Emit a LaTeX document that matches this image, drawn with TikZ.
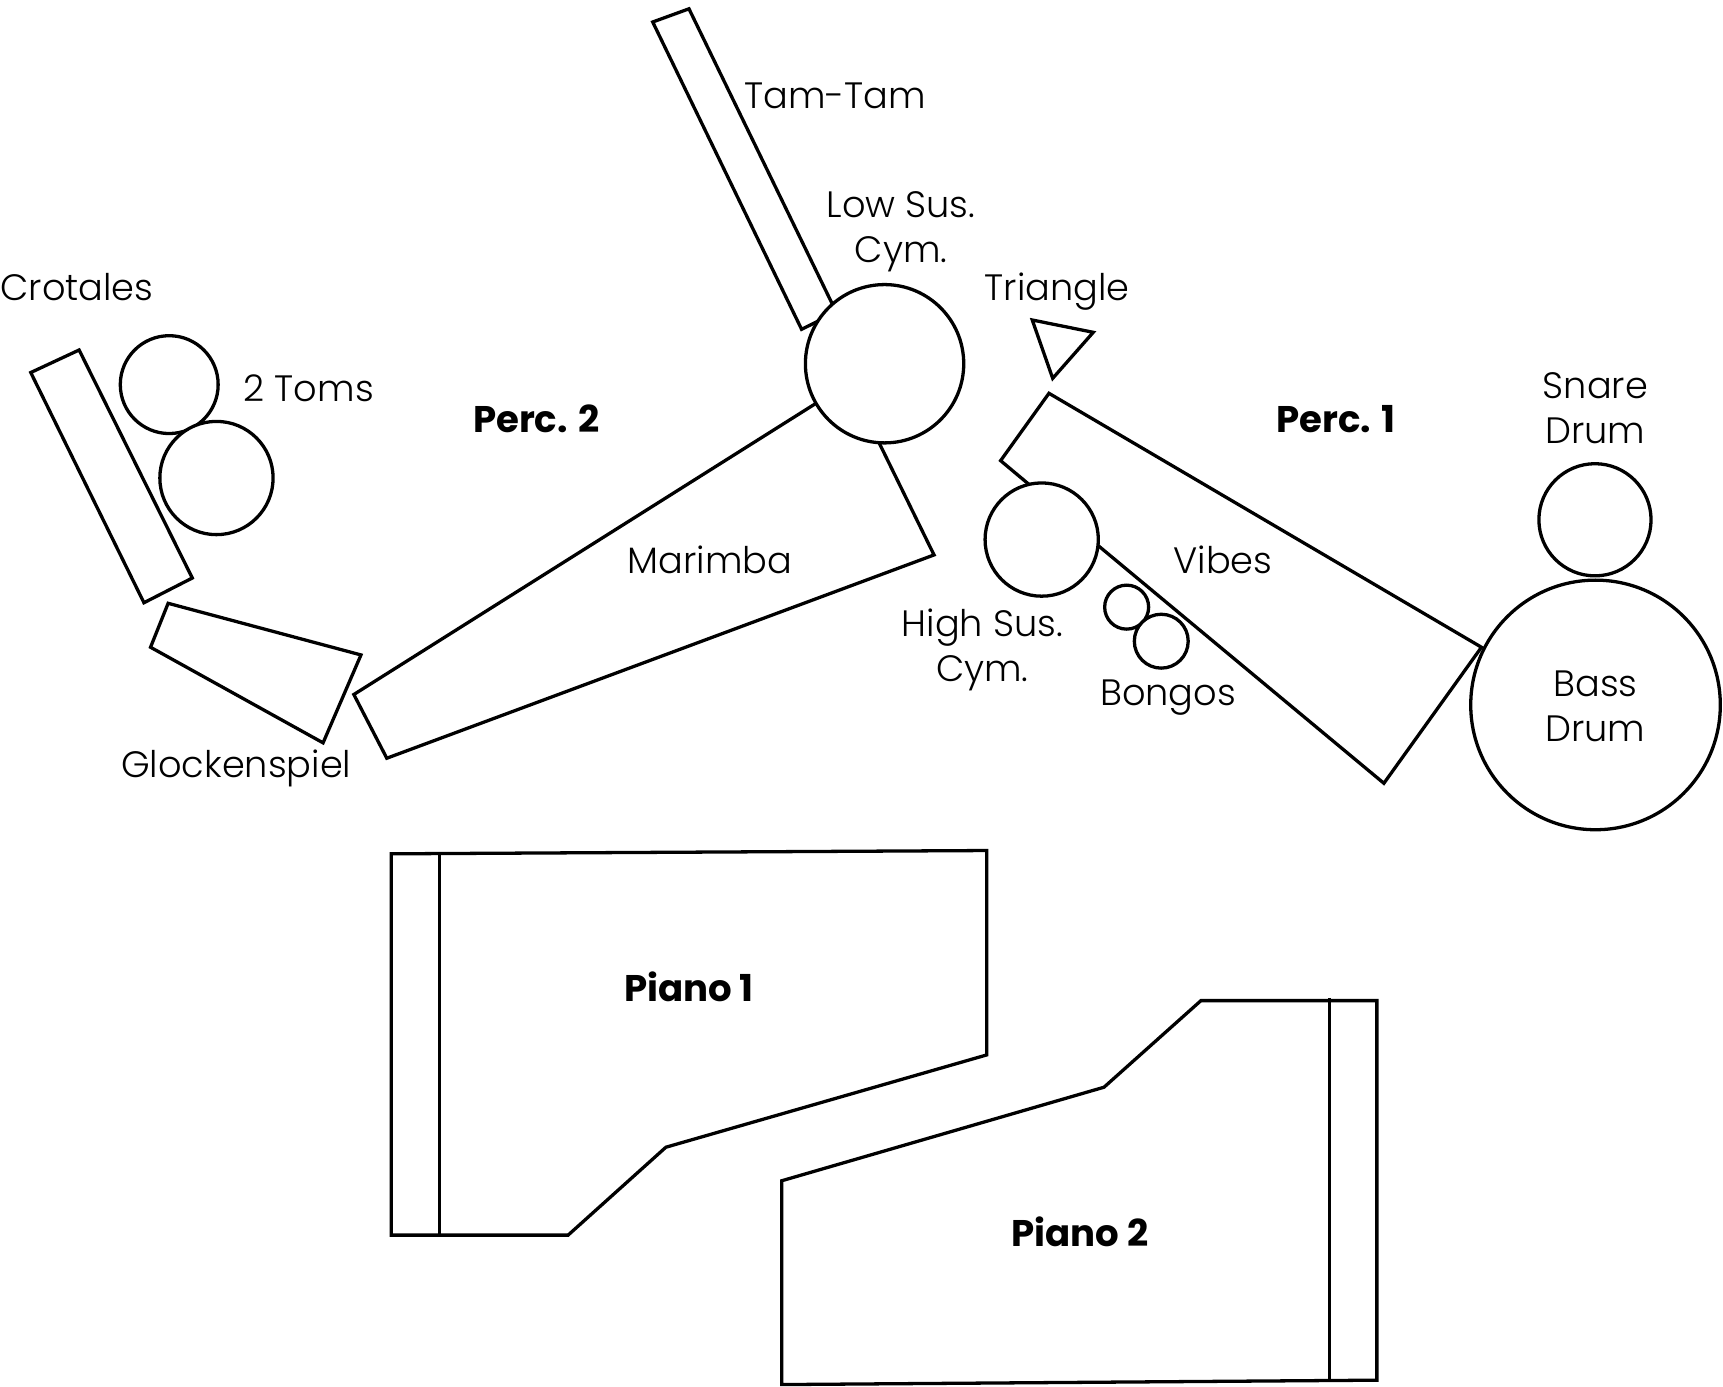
\documentclass[tikz,border=0pt]{standalone}
\usepackage{fontspec}
\setmainfont{Poppins}[UprightFont=* Light, BoldFont=* Bold]
\usepackage{tikz}
\usetikzlibrary{positioning}

\begin{document}
\begin{tikzpicture}[x=0.01cm, y=-0.01cm, line width=0.85pt,
	lbl/.style={font=\fontsize{9.5}{11.7}\selectfont, align=center, inner sep=0pt, text height=6.6pt, text depth=0pt},
	player/.style={font=\fontsize{9.6}{11}\selectfont\bfseries, inner sep=0pt, text height=6.7pt, text depth=0pt},
	drum/.style={draw, circle, fill=white, inner sep=0pt, outer sep=0pt}]
	\useasboundingbox (0,0) rectangle (1568,1262);

	% Perc. 2
	\draw (594,20) -- (627,8) -- (761,284) -- (729.5,299.7) -- cycle;
	\node[drum, minimum size=1.44cm] (lowcym) at (805,331) {};
	\draw (lowcym.210.6) -- (322,632) -- (352,690) -- (850,505) -- (lowcym.266.1);
	\draw (28,339) -- (72,318.5) -- (175,526) -- (131,548.5) -- cycle;
	\draw (153,549) -- (328.5,596) -- (294,676) -- (137,589) -- cycle;
	\node[drum, minimum size=0.89cm] (tom1) at (154,350) {};
	\node[drum, minimum size=1.03cm] (tom2) at (197,435) {};

	% Perc. 1
	\draw (939.4,291.2) -- (994.9,302.4) -- (958,344.3) -- cycle;
	\node[drum, minimum size=1.03cm] (highcym) at (948,491) {};
	\draw (highcym.103.3) -- (910.6,419.2) -- (954.6,357.9) -- (1348.2,589) -- (1259.4,712.8) -- (highcym.354.5);
	\node[drum, minimum size=0.40cm] (bongo1) at (1025.3,552.5) {};
	\node[drum, minimum size=0.49cm] (bongo2) at (1056.8,583.5) {};
	\node[drum, minimum size=1.02cm] (snare) at (1451.5,473) {};
	\node[drum, minimum size=2.27cm] (bass) at (1452,641.5) {};

	% pianos
	\draw (356,777) -- (898,774) -- (898,960) -- (606,1044) -- (517,1124) -- (356,1124) -- cycle;
	\draw (400,777) -- (400,1126);
	\draw (711.5,1074.5) -- (1004.7,989.4) -- (1092.9,910.6) -- (1253,910.6) -- (1253,1256) -- (711.5,1260) -- cycle;
	\draw (1210,908) -- (1210,1256);

	% labels
	\node[lbl] (tamtamlbl) at (760,87) {Tam-Tam};
	\node[lbl] (lowcymlbl) at (820,227) {Low Sus.\\Cym.};
	\node[lbl] (trianglelbl) at (962,262) {Triangle};
	\node[lbl] (crotaleslbl) at (70,262) {Crotales};
	\node[lbl] (tomslbl) at (281,354) {2 Toms};
	\node[lbl] (snarelbl) at (1452,392) {Snare\\Drum};
	\node[lbl] (marimbalbl) at (646,510) {Marimba};
	\node[lbl] (vibeslbl) at (1113,510) {Vibes};
	\node[lbl] (highcymlbl) at (894,609) {High Sus.\\Cym.};
	\node[lbl] (bongoslbl) at (1063,630) {Bongos};
	\node[lbl] (basslbl) at (1452,663) {Bass\\Drum};
	\node[lbl] (glocklbl) at (215,696) {Glockenspiel};
	\node[player] (perctwo) at (488,382) {Perc. 2};
	\node[player] (percone) at (1216,382) {Perc. 1};
	\node[player] (pianoone) at (627,900) {Piano 1};
	\node[player] (pianotwo) at (983,1123) {Piano 2};
\end{tikzpicture}
\end{document}
